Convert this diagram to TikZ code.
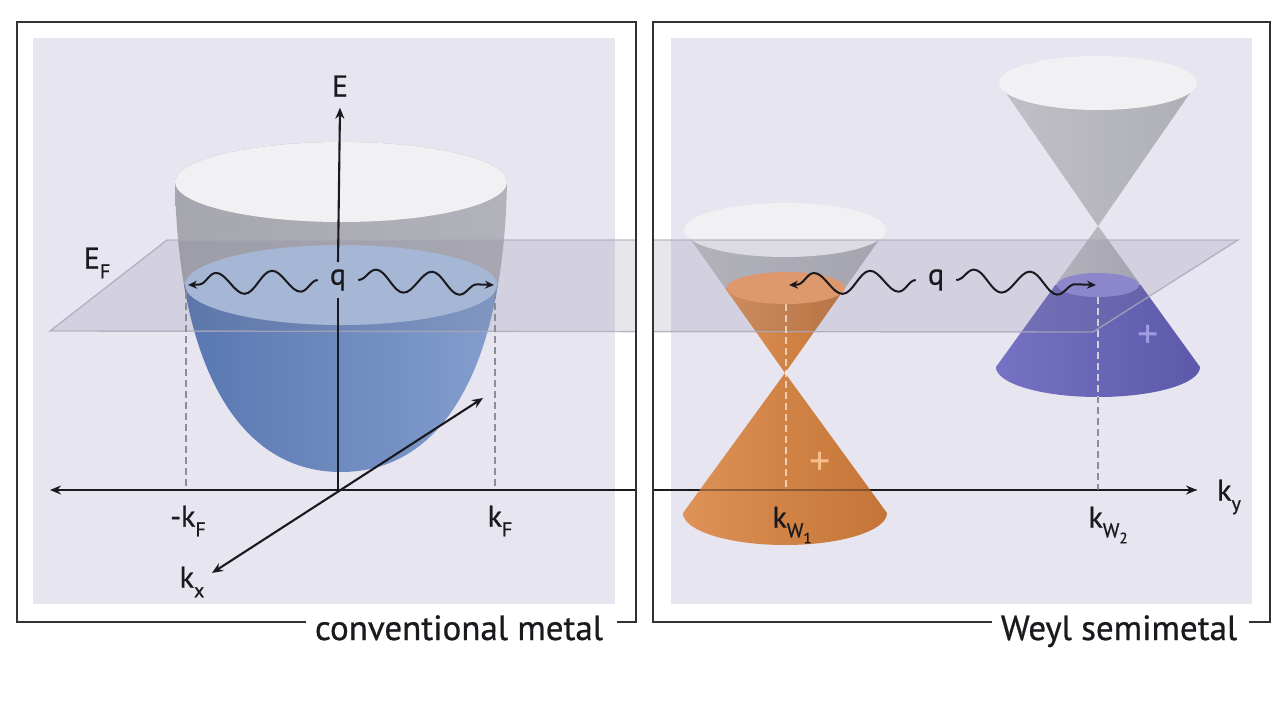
\documentclass[tikz,border=0pt]{standalone}
\usepackage{fontspec}
\setmainfont{PT Sans}
\newfontfamily\heavyfont{PT Sans}[FakeBold=0.7]
\usetikzlibrary{arrows.meta,decorations.pathmorphing}
\definecolor{panelbg}{RGB}{230,229,240}
\definecolor{framecol}{RGB}{50,50,54}
\definecolor{axiscol}{RGB}{26,26,30}
\definecolor{gA}{RGB}{166,166,174}
\definecolor{gB}{RGB}{216,216,222}
\definecolor{gC}{RGB}{178,178,186}
\definecolor{cgA}{RGB}{192,192,198}
\definecolor{cgB}{RGB}{218,218,222}
\definecolor{cgC}{RGB}{174,174,182}
\definecolor{topw}{RGB}{241,241,243}
\definecolor{bA}{RGB}{88,119,176}
\definecolor{bB}{RGB}{106,136,192}
\definecolor{bC}{RGB}{132,158,206}
\definecolor{capblue}{RGB}{176,196,228}
\definecolor{oA}{RGB}{222,146,86}
\definecolor{oB}{RGB}{208,128,64}
\definecolor{oC}{RGB}{196,116,54}
\definecolor{orcap}{RGB}{244,160,104}
\definecolor{orplus}{RGB}{246,190,140}
\definecolor{pA}{RGB}{118,114,196}
\definecolor{pB}{RGB}{102,99,181}
\definecolor{pC}{RGB}{92,89,170}
\definecolor{purcap}{RGB}{145,140,216}
\definecolor{purplus}{RGB}{160,156,226}
\definecolor{planecol}{RGB}{118,116,140}
\definecolor{planeedge}{RGB}{170,169,186}
\definecolor{dashcol}{RGB}{140,140,150}
\newcommand\sbs[1]{\raisebox{-0.32em}{\fontsize{20}{20}\selectfont #1}}
\newcommand\ssbs[1]{\raisebox{-0.3em}{\fontsize{15}{15}\selectfont #1}}
\begin{document}
\begin{tikzpicture}[x=1pt,y=-1pt,
  frameline/.style={draw=framecol,line width=2.6pt},
  axisline/.style={draw=axiscol,line width=2.1pt},
  tipstyle/.style={-{Stealth[length=11pt,width=9pt]}},
  bothtips/.style={{Stealth[length=11pt,width=9pt]}-{Stealth[length=11pt,width=9pt]}},
  wave/.style={draw=axiscol,line width=2pt,-{Stealth[length=9pt,width=8pt]},
    decorate,decoration={snake,segment length=56pt,amplitude=11pt,post length=3pt}},
  dashline/.style={draw=dashcol,line width=1.8pt,dash pattern=on 7pt off 4pt},
  dashlight/.style={draw=white,draw opacity=0.6,line width=1.8pt,dash pattern=on 7pt off 4pt},
  lbl/.style={inner sep=0pt,text=axiscol,font=\heavyfont\fontsize{30}{32}\selectfont},
  caption/.style={inner sep=0pt,text=axiscol,font=\heavyfont\fontsize{35}{38}\selectfont,anchor=base},
  plus/.style={inner sep=0pt,font=\fontsize{42}{42}\selectfont}]
\useasboundingbox (0,0) rectangle (1280,720);
\fill[white] (0,0) rectangle (1280,720);
% panels
\fill[panelbg] (33,38) rectangle (615,604);
\fill[panelbg] (671,38) rectangle (1252,604);

% ---------- coordinates
\coordinate (O) at (338,490);
\coordinate (kyL) at (50,490);
\coordinate (frameL) at (636,490);
\coordinate (frameR) at (653,490);
\coordinate (kyR) at (1197,490);
\coordinate (kxA) at (212,573);
\coordinate (kxB) at (483,398);

% ky axis, right part (under the cones)
\draw[axisline,tipstyle] (frameR) -- (kyR);

% ---------- paraboloid
\begin{scope}
\clip (175,182) .. controls (178,360) and (235,472) .. (341,472)
  .. controls (447,472) and (504,360) .. (507,182)
  arc[start angle=0,end angle=180,x radius=166pt,y radius=40pt] -- cycle;
\shade[left color=gA,middle color=gB,right color=gC] (172,130) rectangle (510,285);
\shade[left color=bA,middle color=bB,right color=bC] (180,285) rectangle (502,480);
\end{scope}
\fill[capblue] (341,285) ellipse[x radius=156pt,y radius=40pt];
\fill[topw] (341,182) ellipse[x radius=166pt,y radius=40pt];

% ---------- Weyl node 1 (orange)
\begin{scope}
\clip (684,230) -- (785,373) -- (886,230) -- cycle;
\shade[left color=cgA,middle color=cgB,right color=cgC] (684,200) rectangle (886,288);
\shade[left color=oA,middle color=oB,right color=oC] (726,288) rectangle (846,375);
\end{scope}
\fill[orcap] (786,288) ellipse[x radius=59pt,y radius=16pt];
\fill[topw] (785,230) ellipse[x radius=101pt,y radius=27pt];
\shade[left color=oA,middle color=oB,right color=oC]
  (785,373) -- (683,513) arc[start angle=180,end angle=360,x radius=102pt,y radius=32pt] -- cycle;

% ---------- Weyl node 2 (purple)
\shade[left color=cgA,middle color=cgB,right color=cgC]
  (999,83) -- (1098,226) -- (1197,83) -- cycle;
\fill[topw] (1098,83) ellipse[x radius=99pt,y radius=27pt];
\begin{scope}
\clip (1098,226) -- (996,367) arc[start angle=180,end angle=360,x radius=102pt,y radius=30pt] -- cycle;
\shade[left color=cgA,middle color=cgB,right color=cgC] (1054,220) rectangle (1142,285);
\shade[left color=pA,middle color=pB,right color=pC] (994,285) rectangle (1202,400);
\end{scope}
\fill[purcap] (1098,285) ellipse[x radius=41pt,y radius=12pt];

% ---------- Fermi plane
\begin{scope}
\clip (17,22) rectangle (636,622) (653,22) rectangle (1270,622);
\fill[planecol,fill opacity=0.17] (50,331) -- (167,240) -- (1238,240) -- (1093,332) -- cycle;
\draw[planeedge,line width=1.4pt,draw opacity=0.8] (50,331) -- (167,240) -- (1238,240) -- (1093,332) -- cycle;
\end{scope}

% ---------- dashed guides
\coordinate (dL1) at (186,292);
\coordinate (dL2) at (186,490);
\coordinate (dR1) at (495,292);
\coordinate (dR2) at (495,490);
\coordinate (dW1a) at (786,304);
\coordinate (dW1b) at (786,490);
\coordinate (dW2a) at (1098,297);
\coordinate (dW2b) at (1098,490);
\draw[dashline] (dL1) -- (dL2);
\draw[dashline] (dR1) -- (dR2);
\draw[dashline] (dW2a) -- (dW2b);
\begin{scope}
\clip (1098,226) -- (996,367) arc[start angle=180,end angle=360,x radius=102pt,y radius=30pt] -- cycle;
\draw[dashlight] (dW2a) -- (dW2b);
\end{scope}
\draw[dashlight] (dW1a) -- (dW1b);

% ky axis seen through the orange cone
\draw[axisline,draw opacity=0.4] (frameR) -- (kyR);
% ky axis, left part
\draw[axisline,tipstyle] (frameL) -- (kyL);
% kx axis
\draw[axisline,bothtips] (kxA) -- (kxB);

% ---------- labels
\node[lbl,inner sep=11pt] (E) at (340,86) {E};
\node[lbl,inner xsep=12pt,inner ysep=7pt] (q1) at (338,280) {q};
\node[lbl,inner xsep=12pt,inner ysep=7pt] (q2) at (936,280) {q};
\draw[axisline] (O) -- (q1.south);
\draw[axisline,tipstyle] (q1.north) -- (E.south);

\node[lbl] (EF) at (97,263) {E\sbs{F}};
\node[lbl] (mkF) at (188,521) {-k\sbs{F}};
\node[lbl] (kF) at (500,521) {k\sbs{F}};
\node[lbl] (kx) at (192,582) {k\sbs{x}};
\node[lbl] (ky) at (1229,497) {k\sbs{y}};
\node[lbl] (kw1) at (792,525) {k\sbs{W\ssbs{1}}};
\node[lbl] (kw2) at (1108,525) {k\sbs{W\ssbs{2}}};
\node[plus,text=orplus] (p1) at (820,464) {+};
\node[plus,text=purplus] (p2) at (1148,337) {+};

% ---------- scattering waves
\coordinate (tL) at (188,285);
\coordinate (tR) at (494,285);
\coordinate (tW1) at (789,285);
\coordinate (tW2) at (1096,285);
\draw[wave] (q1.west) -- (tL);
\draw[wave] (q1.east) -- (tR);
\draw[wave] (q2.west) -- (tW1);
\draw[wave] (q2.east) -- (tW2);

% ---------- frames and captions
\node[caption] (cm) at (459,640) {conventional metal};
\node[caption] (ws) at (1119,640) {Weyl semimetal};
\draw[frameline] ([xshift=-9pt]cm.west |- 0,622) -- (17,622) -- (17,22) -- (636,22) -- (636,622) -- ([xshift=14pt]cm.east |- 0,622);
\draw[frameline] ([xshift=-9pt]ws.west |- 0,622) -- (653,622) -- (653,22) -- (1270,22) -- (1270,622) -- ([xshift=12pt]ws.east |- 0,622);
\end{tikzpicture}
\end{document}
